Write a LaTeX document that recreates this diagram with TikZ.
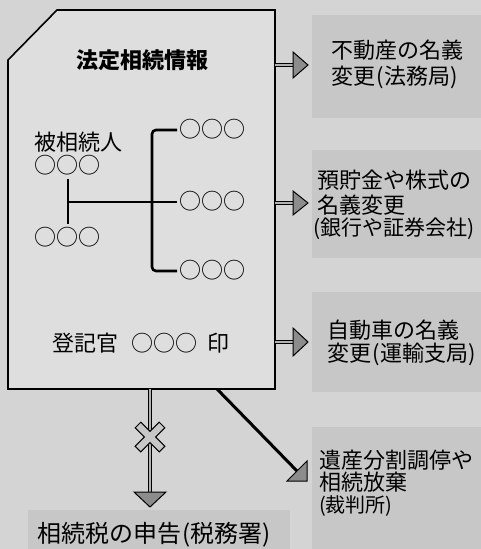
\documentclass[tikz,border=0pt]{standalone}
\usepackage{fontspec}
\newfontfamily\cjk{Noto Sans CJK JP}
\begin{document}
\begin{tikzpicture}[x=1pt,y=-1pt,
  txt/.style={font=\cjk\fontsize{22}{26}\selectfont, anchor=west, inner sep=0pt},
  smalltxt/.style={font=\cjk\fontsize{20}{24}\selectfont, anchor=west, inner sep=0pt},
  bigtxt/.style={font=\cjk\fontsize{24}{28}\selectfont, anchor=west, inner sep=0pt},
  titletxt/.style={font=\cjk\bfseries\fontsize{22}{26}\selectfont, inner sep=0pt},
  docshape/.style={draw=black, line width=1.6pt, fill=black!13},
  textbg/.style={fill=black!22},
  treeline/.style={line width=2.6pt, black},
  shaft/.style={draw=black, line width=0.9pt, double=black!30, double distance=2.2pt},
  headshape/.style={draw=black, line width=1pt, fill=black!45, line join=miter},
  xmark/.style={draw=black, line width=1pt, fill=black!22},
]
\useasboundingbox (0,0) rectangle (481,549);
\fill[black!17] (0,0) rectangle (481,549);
% text backgrounds
\fill[textbg] (312,15) rectangle (481,118);
\fill[textbg] (312,150) rectangle (481,258);
\fill[textbg] (312,292) rectangle (481,392);
\fill[textbg] (312,427) rectangle (481,549);
\fill[textbg] (28,510) rectangle (290,549);
% document
\draw[docshape] (57,10) -- (275,10) -- (275,389) -- (8,389) -- (8,60) -- cycle;
\node[titletxt] (title) at (142,60) {法定相続情報};
% tree
\node[txt] (hisozoku) at (34,142) {被相続人};
\node[txt] (p0) at (34,165) {○○○};
\node[txt] (p1) at (34,237) {○○○};
\node[txt] (c1) at (179,129) {○○○};
\node[txt] (c2) at (179,201) {○○○};
\node[txt] (c3) at (179,270) {○○○};
\draw[treeline] (68,179) -- (68,224);
\draw[treeline] (68,202) -- (177,202);
\draw[treeline, rounded corners=4pt] (177,130) -- (152,130) -- (152,271) -- (177,271);
% registrar line
\node[txt] (tokikan) at (52,343) {登記官};
\node[txt] (tname) at (131,343) {○○○};
\node[txt] (stamp) at (207,343) {印};
% right arrows
\coordinate (a1s) at (275,65);  \coordinate (a1h) at (293,65);
\coordinate (a2s) at (275,203); \coordinate (a2h) at (293,203);
\coordinate (a3s) at (275,342); \coordinate (a3h) at (293,342);
\draw[shaft] (a1s) -- (a1h);
\draw[shaft] (a2s) -- (a2h);
\draw[shaft] (a3s) -- (a3h);
\draw[headshape] (a1h) ++(0,-13) -- ++(15,13) -- ++(-15,13) -- cycle;
\draw[headshape] (a2h) ++(0,-12) -- ++(15,12) -- ++(-15,12) -- cycle;
\draw[headshape] (a3h) ++(0,-14) -- ++(15,14) -- ++(-15,14) -- cycle;
% down arrow with cross
\coordinate (ds) at (150,389); \coordinate (dh) at (150,492);
\draw[shaft] (ds) -- (dh);
\draw[headshape] (dh) ++(-16,0) -- ++(16,15) -- ++(16,-15) -- cycle;
\begin{scope}[shift={(150,437)}, rotate=45]
\draw[xmark] (4,4) -- (17,4) -- (17,-4) -- (4,-4) -- (4,-17) -- (-4,-17) -- (-4,-4) -- (-17,-4) -- (-17,4) -- (-4,4) -- (-4,17) -- (4,17) -- cycle;
\end{scope}
% diagonal arrow
\coordinate (gs) at (217,389); \coordinate (gh) at (297,471);
\draw[line width=3pt] (gs) -- (gh);
\draw[headshape] (287,481) -- (307,461) -- (307,481) -- cycle;
% right texts
\node[txt] (b1a) at (331,50) {不動産の名義};
\node[txt] (b1b) at (331,77) {変更\kern1.5pt(法務局\kern0.5pt)};
\node[txt] (b2a) at (317,180) {預貯金や株式の};
\node[txt] (b2b) at (317,205) {名義変更};
\node[font=\cjk\fontsize{21}{24}\selectfont, anchor=west, inner sep=0pt] (b2c) at (313,229) {(銀行や証券会社)};
\node[txt] (b3a) at (327,330) {自動車の名義};
\node[txt] (b3b) at (327,354) {変更\kern1.5pt(運輸支局\kern0.5pt)};
\node[txt] (b4a) at (319,460) {遺産分割調停や};
\node[txt] (b4b) at (319,482) {相続放棄};
\node[smalltxt] (b4c) at (319,506) {(裁判所)};
\node[bigtxt] (bottom) at (37,535) {相続税の申告\kern1.5pt(税務署)};
\end{tikzpicture}
\end{document}
